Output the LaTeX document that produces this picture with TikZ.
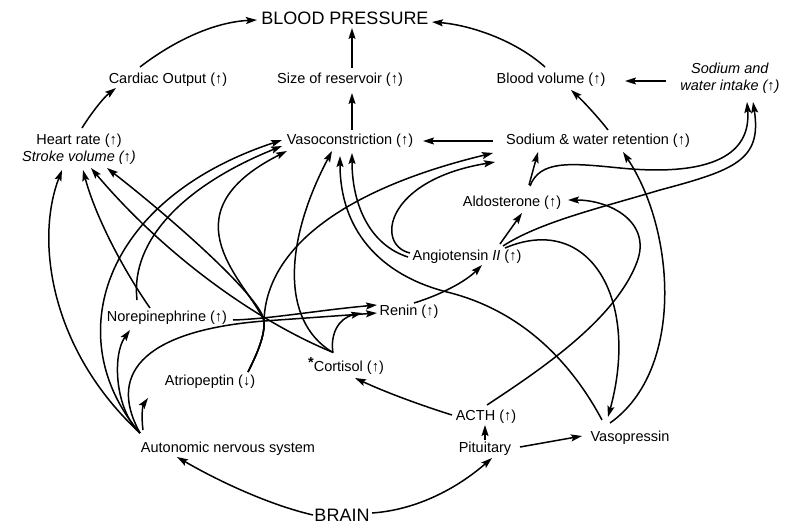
\documentclass[tikz,border=0pt]{standalone}
\usepackage{fontspec}
\setmainfont{Liberation Sans}
\usetikzlibrary{arrows.meta,calc}

\tikzset{
  lbl/.style={font=\fontsize{14.5}{17}\selectfont, inner sep=0pt, align=center},
  big/.style={font=\fontsize{18}{21}\selectfont, inner sep=0pt},
  arr/.style={line width=1.5pt, -{Stealth[length=11pt,width=7pt,inset=2pt]}},
}

\begin{document}
\begin{tikzpicture}[x=1pt,y=-1pt]
			\useasboundingbox (0,0) rectangle (789,524);
			%%%%% NODES %%%%%
			\node[big] (bp) at (345,18) {BLOOD PRESSURE};
			\node[lbl] (co) at (168,80) {Cardiac Output (↑)};
			\node[lbl] (sr) at (340,80) {Size of reservoir (↑)};
			\node[lbl] (bv) at (551,80) {Blood volume (↑)};
			\node[lbl] (si) at (730,78) {\textit{Sodium and}\\\textit{water intake (↑)}};
			\node[lbl] (hr) at (79,149) {Heart rate (↑)\\\textit{Stroke volume (↑)}};
			\node[lbl] (vc) at (350,141) {Vasoconstriction (↑)};
			\node[lbl] (nr) at (598,141) {Sodium \& water retention (↑)};
			\node[lbl] (al) at (512,203) {Aldosterone (↑)};
			\node[lbl] (an) at (467,257) {Angiotensin \textit{II} (↑)};
			\node[lbl] (ne) at (167,318) {Norepinephrine (↑)};
			\node[lbl] (re) at (409,312) {Renin (↑)};
			\node[lbl] (cs) at (346,366) {\raisebox{0.5ex}{\bfseries *}Cortisol (↑)};
			\node[lbl] (at) at (210,382) {Atriopeptin (↓)};
			\node[lbl] (ac) at (486,417) {ACTH (↑)};
			\node[lbl] (ans) at (228,449) {Autonomic nervous system};
			\node[lbl] (pi) at (485,449) {Pituitary};
			\node[lbl] (vp) at (630,438) {Vasopressin};
			\node[big] (br) at (342,515) {BRAIN};
			\coordinate (hub) at (264,321);

			%%%%% TOP ROWS %%%%%
			\draw[arr] ($(co)+(-28,-13)$) .. controls (175,40) and (215,22) .. ($(bp)+(-88,2)$);
			\draw[arr] ($(sr)+(12,-12)$) -- ($(bp)+(7,10)$);
			\draw[arr] ($(bv)+(-6,-13)$) .. controls (515,40) and (470,25) .. ($(bp)+(87,4)$);
			\draw[arr] ($(si)+(-64,3)$) -- ($(bv)+(74,1)$);
			\draw[arr] ($(hr)+(3,-21)$) .. controls (90,115) and (103,98) .. ($(co)+(-52,8)$);
			\draw[arr] ($(vc)+(2,-11)$) -- ($(sr)+(12,13)$);
			\draw[arr] ($(nr)+(10,-11)$) .. controls (598,117) and (582,100) .. ($(bv)+(20,10)$);
			\draw[arr] ($(nr)+(-105,0)$) -- ($(vc)+(73,0)$);

			%%%%% AUTONOMIC NERVOUS SYSTEM %%%%%
			\draw[arr] ($(ans)+(-88,-16)$) .. controls (50,350) and (35,240) .. ($(hr)+(-17,21)$);
			\draw[arr] ($(ans)+(-88,-16)$) .. controls (60,340) and (100,200) .. ($(vc)+(-68,-1)$);
			\draw[arr] ($(ans)+(-88,-16)$) .. controls (115,410) and (112,355) .. ($(ne)+(-37,12)$);
			\draw[arr] ($(ans)+(-88,-16)$) .. controls (105,370) and (150,330) .. (hub) -- ($(re)+(-32,1)$);
			\draw[arr] ($(ans)+(-85,-19)$) .. controls (141,415) and (143,405) .. ($(at)+(-62,16)$);

			%%%%% NOREPINEPHRINE %%%%%
			\draw[arr] ($(ne)+(-30,-18)$) .. controls (130,240) and (185,185) .. ($(vc)+(-68,5)$);
			\draw[arr] ($(ne)+(-17,-10)$) .. controls (122,268) and (95,215) .. ($(hr)+(4,21)$);
			\draw[arr] ($(ne)+(66,2)$) .. controls (270,319) and (320,310) .. ($(re)+(-32,-7)$);

			%%%%% CORTISOL %%%%%
			\draw[arr] ($(cs)+(-14,-14)$) .. controls (250,318) and (160,250) .. ($(hr)+(12,19)$);
			\draw[arr] ($(cs)+(-14,-14)$) .. controls (280,320) and (285,240) .. ($(vc)+(-18,10)$);
			\draw[arr] ($(cs)+(-13,-13)$) .. controls (330,335) and (338,318) .. ($(re)+(-47,1)$);

			%%%%% ATRIOPEPTIN %%%%%
			\draw[arr] ($(at)+(38,-10)$) .. controls (258,352) and (265,335) .. (hub) .. controls (263,300) and (180,225) .. ($(hr)+(28,19)$);
			\draw[arr] ($(at)+(38,-10)$) .. controls (258,352) and (265,335) .. (hub) .. controls (250,285) and (160,215) .. ($(vc)+(-63,10)$);
			\draw[arr] ($(at)+(38,-10)$) .. controls (258,352) and (265,335) .. (hub) .. controls (266,250) and (340,190) .. ($(nr)+(-105,12)$);

			%%%%% RENIN - ANGIOTENSIN - ALDOSTERONE %%%%%
			\draw[arr] ($(re)+(5,-9)$) .. controls (440,295) and (465,282) .. ($(an)+(15,8)$);
			\draw[arr] ($(an)+(33,-13)$) -- ($(al)+(10,10)$);
			\draw[arr] ($(an)+(-59,0)$) .. controls (370,245) and (352,205) .. ($(vc)+(2,12)$);
			\draw[arr] ($(an)+(-57,-4)$) .. controls (375,245) and (385,180) .. ($(nr)+(-103,21)$);
			\draw[arr] ($(al)+(17,-18)$) -- ($(nr)+(-60,11)$);
			\draw[arr] ($(al)+(18,-17)$) .. controls (540,160) and (570,163) .. (620,168) .. controls (690,175) and (752,165) .. ($(si)+(17,24)$);
			\draw[arr] ($(an)+(36,-11)$) .. controls (540,222) and (600,208) .. (660,190) .. controls (735,170) and (762,160) .. ($(si)+(23,24)$);
			\draw[arr] ($(an)+(38,-9)$) .. controls (590,212) and (640,300) .. ($(vp)+(-22,-21)$);

			%%%%% VASOPRESSIN, ACTH %%%%%
			\draw[arr] ($(vp)+(-28,-18)$) .. controls (570,360) and (520,310) .. (447,292) .. controls (380,275) and (340,230) .. ($(vc)+(-10,15)$);
			\draw[arr] ($(vp)+(-20,-15)$) .. controls (685,370) and (675,230) .. ($(nr)+(25,11)$);
			\draw[arr] ($(ac)+(1,-12)$) .. controls (540,370) and (615,320) .. (637,262) .. controls (652,222) and (610,200) .. ($(al)+(56,-3)$);
			\draw[arr] ($(ac)+(-34,-2)$) .. controls (420,405) and (385,392) .. ($(cs)+(9,12)$);
			\draw[arr] ($(pi)+(0,-9)$) -- ($(ac)+(-1,8)$);
			\draw[arr] ($(pi)+(35,-2)$) -- ($(vp)+(-48,-2)$);

			%%%%% BRAIN %%%%%
			\draw[arr] ($(br)+(-29,0)$) .. controls (270,505) and (220,482) .. ($(ans)+(-51,8)$);
			\draw[arr] ($(br)+(30,-2)$) .. controls (415,510) and (455,490) .. ($(pi)+(7,9)$);
		\end{tikzpicture}
\end{document}
